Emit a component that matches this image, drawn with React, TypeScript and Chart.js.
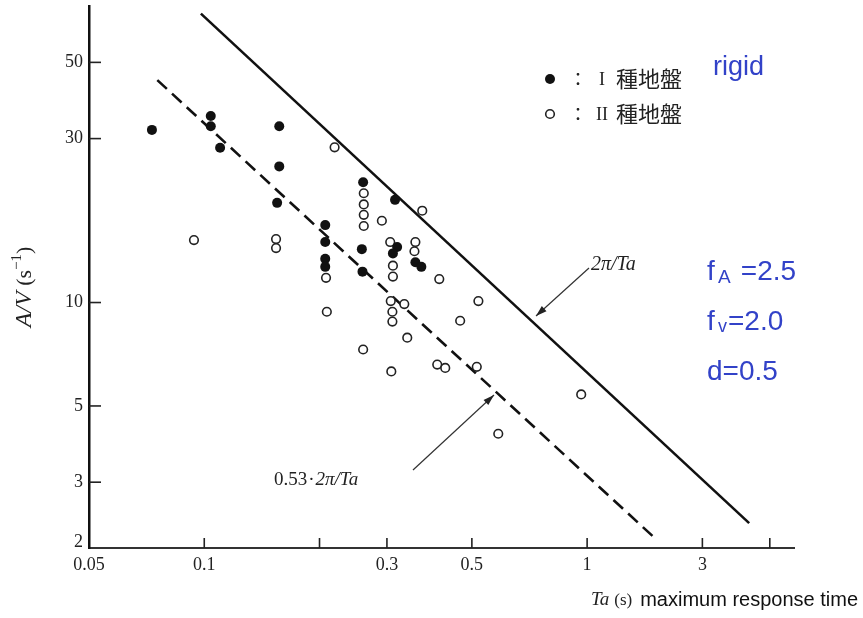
import React, { useEffect, useRef } from 'react';
import { Chart, registerables } from 'chart.js';

Chart.register(...registerables);

// Ground type I (filled circles)
const groundITa = [0.073, 0.104, 0.104, 0.110, 0.157, 0.157, 0.155, 0.207, 0.207, 0.207, 0.207, 0.260, 0.258, 0.259, 0.315, 0.319, 0.311, 0.356, 0.369];
const groundIAV = [31.8, 34.9, 32.6, 28.2, 32.6, 24.9, 19.5, 16.8, 15.0, 13.4, 12.7, 22.4, 14.3, 12.3, 19.9, 14.5, 13.9, 13.1, 12.7];

// Ground type II (open circles)
const groundIITa = [0.094, 0.154, 0.154, 0.208, 0.209, 0.219, 0.261, 0.261, 0.261, 0.261, 0.291, 0.371, 0.306, 0.356, 0.354, 0.311, 0.311, 0.411, 0.520, 0.307, 0.333, 0.310, 0.310, 0.466, 0.339, 0.260, 0.308, 0.406, 0.426, 0.515, 0.965, 0.586];
const groundIIAV = [15.2, 15.3, 14.4, 11.8, 9.4, 28.3, 20.8, 19.3, 18.0, 16.7, 17.3, 18.5, 15.0, 15.0, 14.1, 12.8, 11.9, 11.7, 10.1, 10.1, 9.9, 9.4, 8.8, 8.85, 7.9, 7.3, 6.3, 6.6, 6.45, 6.5, 5.4, 4.15];

// Reference lines 2π/Ta and 0.53·2π/Ta (end points)
const solidTa = [0.098, 2.65];
const solidAV = [69.3, 2.28];
const dashedTa = [0.0754, 1.49];
const dashedAV = [44.4, 2.08];

// Axes
const xMin = 0.05;
const xMax = 3.47;
const yMin = 1.93;
const yMax = 73;
const xTickValues = [0.05, 0.1, 0.2, 0.3, 0.5, 1, 2, 3];
const xTickLabels = ['0.05', '0.1', '', '0.3', '0.5', '1', '3', ''];
const yTickValues = [2, 3, 5, 10, 30, 50];
const yTickLabels = ['2', '3', '5', '10', '30', '50'];

const legendLabels = ['I', 'II'];
const legendSuffix = '種地盤';

const SERIF = '"Liberation Serif", "DejaVu Serif", serif';
const SANS = '"Liberation Sans", Arial, sans-serif';
const CJK = '"Noto Sans CJK JP", "Noto Sans CJK SC", sans-serif';
const BLUE = '#3242c8';

function arrow(ctx: CanvasRenderingContext2D, x1: number, y1: number, x2: number, y2: number) {
  ctx.beginPath();
  ctx.moveTo(x1, y1);
  ctx.lineTo(x2, y2);
  ctx.stroke();
  const ang = Math.atan2(y2 - y1, x2 - x1);
  const L = 11, W = 3.5;
  ctx.beginPath();
  ctx.moveTo(x2, y2);
  ctx.lineTo(x2 - L * Math.cos(ang) + W * Math.sin(ang), y2 - L * Math.sin(ang) - W * Math.cos(ang));
  ctx.lineTo(x2 - L * Math.cos(ang) - W * Math.sin(ang), y2 - L * Math.sin(ang) + W * Math.cos(ang));
  ctx.closePath();
  ctx.fill();
}

const decor = {
  id: 'decor',
  afterDraw(chart: any) {
    const { ctx, chartArea } = chart;
    const x = chart.scales.x;
    const y = chart.scales.y;
    ctx.save();
    // tick marks (inside)
    ctx.strokeStyle = '#222';
    ctx.lineWidth = 1.6;
    xTickValues.forEach((v, i) => {
      if (i === 0) return;
      const px = x.getPixelForValue(v);
      ctx.beginPath();
      ctx.moveTo(px, chartArea.bottom);
      ctx.lineTo(px, chartArea.bottom - 10);
      ctx.stroke();
    });
    yTickValues.forEach((v, i) => {
      if (i === 0) return;
      const py = y.getPixelForValue(v);
      ctx.beginPath();
      ctx.moveTo(chartArea.left, py);
      ctx.lineTo(chartArea.left + 12, py);
      ctx.stroke();
    });

    // legend
    const rows = [79, 114];
    rows.forEach((ry, i) => {
      ctx.beginPath();
      ctx.arc(550, ry, i === 0 ? 5 : 4.3, 0, Math.PI * 2);
      if (i === 0) {
        ctx.fillStyle = '#111';
        ctx.fill();
      } else {
        ctx.fillStyle = '#fff';
        ctx.fill();
        ctx.lineWidth = 1.6;
        ctx.strokeStyle = '#222';
        ctx.stroke();
      }
      ctx.fillStyle = '#222';
      ctx.textBaseline = 'middle';
      ctx.textAlign = 'center';
      ctx.font = `18px ${CJK}`;
      ctx.fillText('：', 578, ry);
      ctx.font = `18px ${SERIF}`;
      ctx.fillText(legendLabels[i], 602, ry + 1);
      ctx.textAlign = 'left';
      ctx.font = `22px ${CJK}`;
      ctx.fillText(legendSuffix, 616, ry);
    });

    // annotations
    ctx.strokeStyle = '#333';
    ctx.fillStyle = '#222';
    ctx.lineWidth = 1.2;
    arrow(ctx, 589, 268, 536, 316);
    arrow(ctx, 413, 470, 494, 395);
    ctx.textBaseline = 'middle';
    ctx.textAlign = 'left';
    ctx.font = `italic 20px ${SERIF}`;
    ctx.fillStyle = '#222';
    ctx.fillText('2π/Ta', 591, 265);
    ctx.font = `19px ${SERIF}`;
    ctx.fillText('0.53', 274, 480);
    let w = ctx.measureText('0.53').width;
    ctx.fillText('·', 274 + w + 1, 480);
    w += ctx.measureText('·').width + 2;
    ctx.font = `italic 19px ${SERIF}`;
    ctx.fillText('2π/Ta', 274 + w, 480);

    // blue texts
    ctx.fillStyle = BLUE;
    ctx.textBaseline = 'alphabetic';
    ctx.font = `27px ${SANS}`;
    ctx.fillText('rigid', 713, 75);
    ctx.font = `28px ${SANS}`;
    ctx.fillText('f', 707, 280);
    ctx.font = `19px ${SANS}`;
    ctx.fillText('A', 718, 283);
    ctx.font = `28px ${SANS}`;
    ctx.fillText(' =2.5', 733, 280);
    ctx.fillText('f', 707, 330);
    ctx.font = `18px ${SANS}`;
    ctx.fillText('v', 718, 332);
    ctx.font = `28px ${SANS}`;
    ctx.fillText('=2.0', 728, 330);
    ctx.fillText('d=0.5', 707, 380);

    // x-axis title (right aligned to the page edge)
    ctx.textBaseline = 'alphabetic';
    ctx.textAlign = 'right';
    ctx.fillStyle = '#111';
    ctx.font = `20px ${SANS}`;
    ctx.fillText('maximum response time', 858, 606);
    const mw = ctx.measureText('maximum response time').width;
    const tEnd = 858 - mw - 8;
    ctx.fillStyle = '#222';
    ctx.font = `17px ${SERIF}`;
    ctx.fillText('(s)', tEnd, 605);
    const sw = ctx.measureText('(s)').width;
    ctx.font = `italic 19px ${SERIF}`;
    ctx.fillText('Ta', tEnd - sw - 5, 605);

    // y-axis title (rotated)
    ctx.save();
    ctx.translate(31, 287);
    ctx.rotate(-Math.PI / 2);
    ctx.fillStyle = '#222';
    ctx.textAlign = 'left';
    ctx.font = `italic 24px ${SERIF}`;
    const p1 = 'A/V';
    const w1 = ctx.measureText(p1).width;
    ctx.font = `22px ${SERIF}`;
    const w2 = ctx.measureText(' (s').width;
    ctx.font = `15px ${SERIF}`;
    const w3 = ctx.measureText('−1').width;
    ctx.font = `22px ${SERIF}`;
    const w4 = ctx.measureText(')').width;
    let sx = -(w1 + w2 + w3 + w4) / 2;
    ctx.font = `italic 24px ${SERIF}`;
    ctx.fillText(p1, sx, 0);
    sx += w1;
    ctx.font = `22px ${SERIF}`;
    ctx.fillText(' (s', sx, 0);
    sx += w2;
    ctx.font = `15px ${SERIF}`;
    ctx.fillText('−1', sx, -10);
    sx += w3;
    ctx.font = `22px ${SERIF}`;
    ctx.fillText(')', sx, 0);
    ctx.restore();

    ctx.restore();
  },
};

export default function App() {
  const ref = useRef<HTMLCanvasElement | null>(null);
  useEffect(() => {
    if (!ref.current) return;
    const chart = new Chart(ref.current, {
      type: 'scatter',
      data: {
        datasets: [
          {
            label: 'I',
            data: groundITa.map((t, i) => ({ x: t, y: groundIAV[i] })),
            backgroundColor: '#111',
            borderWidth: 0,
            pointRadius: 5,
          },
          {
            label: 'II',
            data: groundIITa.map((t, i) => ({ x: t, y: groundIIAV[i] })),
            backgroundColor: '#fff',
            borderColor: '#222',
            borderWidth: 1.6,
            pointRadius: 4.3,
          },
          {
            label: '2π/Ta',
            data: solidTa.map((t, i) => ({ x: t, y: solidAV[i] })),
            showLine: true,
            borderColor: '#111',
            borderWidth: 2.6,
            pointRadius: 0,
          },
          {
            label: '0.53·2π/Ta',
            data: dashedTa.map((t, i) => ({ x: t, y: dashedAV[i] })),
            showLine: true,
            borderColor: '#111',
            borderWidth: 2.6,
            borderDash: [13, 7],
            pointRadius: 0,
          },
        ],
      },
      options: {
        responsive: false,
        animation: false,
        layout: { padding: { top: 2, right: 69, left: 0, bottom: 0 } },
        plugins: { legend: { display: false }, tooltip: { enabled: false } },
        scales: {
          x: {
            type: 'logarithmic',
            min: xMin,
            max: xMax,
            bounds: 'data',
            afterFit: (s: any) => { s.height = 70; s.paddingLeft = 0; s.paddingRight = 0; },
            afterBuildTicks: (s: any) => { s.ticks = xTickValues.map((v) => ({ value: v })); },
            grid: { display: false, drawTicks: false },
            border: { display: true, color: '#333', width: 2 },
            ticks: {
              autoSkip: false,
              maxRotation: 0,
              padding: 6,
              color: '#222',
              font: { family: SERIF, size: 18 },
              callback: (v: any) => {
                const i = xTickValues.indexOf(Number(v));
                return i >= 0 ? xTickLabels[i] : '';
              },
            },
          },
          y: {
            type: 'logarithmic',
            min: yMin,
            max: yMax,
            bounds: 'data',
            afterFit: (s: any) => { s.width = 89; s.paddingTop = 0; s.paddingBottom = 0; },
            afterBuildTicks: (s: any) => { s.ticks = yTickValues.map((v) => ({ value: v })); },
            grid: { display: false, drawTicks: false },
            border: { display: true, color: '#111', width: 2.5 },
            ticks: {
              autoSkip: false,
              padding: 6,
              color: '#222',
              font: { family: SERIF, size: 18 },
              callback: (v: any) => {
                const i = yTickValues.indexOf(Number(v));
                return i >= 0 ? yTickLabels[i] : '';
              },
            },
          },
        },
      },
      plugins: [decor],
    });
    return () => chart.destroy();
  }, []);
  return (
    <div style={{ position: 'absolute', left: 0, top: 0, width: 863, height: 618, background: '#fff' }}>
      <canvas ref={ref} width={863} height={618} style={{ display: 'block' }} />
    </div>
  );
}
